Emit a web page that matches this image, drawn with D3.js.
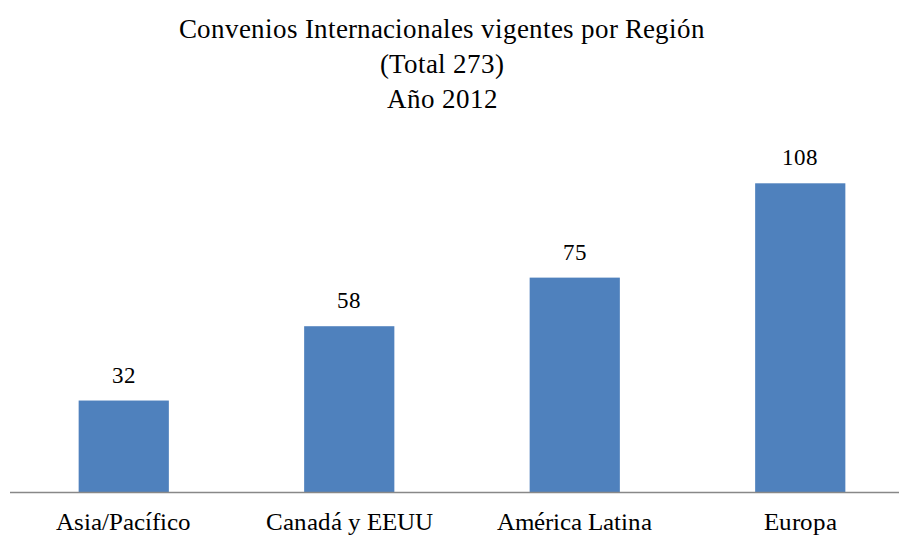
<!DOCTYPE html>
<html>
<head>
<meta charset="utf-8">
<script src="https://cdn.jsdelivr.net/npm/d3@7"></script>
<style>
  @font-face { font-family: "ChartSerif"; src: local("Liberation Serif"), local("LiberationSerif"), local("Liberation Serif Regular"), local("LiberationSerif-Regular"); }
  body { margin: 0; background: #fff; }
</style>
</head>
<body>
<script>
const regions = ["Asia/Pacífico", "Canadá y EEUU", "América Latina", "Europa"]
const convenios = [32, 58, 75, 108]
const titleLines = ["Convenios Internacionales vigentes por Región", "(Total 273)", "Año 2012"]

const w = 899
const h = 540
const serif = "ChartSerif, 'Liberation Serif'"

const svg = d3.select("body")
              .append("svg")
              .attr("width", w)
              .attr("height", h)

// title
svg.selectAll("text.title")
   .data(titleLines)
   .enter()
   .append("text")
   .attr("class", "title")
   .attr("x", 442)
   .attr("y", (d, i) => 38 + i * 35)
   .attr("text-anchor", "middle")
   .attr("font-family", serif)
   .attr("font-size", 27)
   .text(d => d)

// scales
const xScale = d3.scaleBand()
                 .domain(regions)
                 .range([11, 913])
                 .paddingInner(0.6)
                 .paddingOuter(0.3)

const yScale = d3.scaleLinear()
                 .domain([0, 120])
                 .range([492, 149])

// bars
svg.selectAll("rect")
   .data(convenios)
   .enter()
   .append("rect")
   .attr("x", (d, i) => xScale(regions[i]))
   .attr("y", d => yScale(d))
   .attr("width", xScale.bandwidth())
   .attr("height", d => yScale(0) - yScale(d))
   .attr("fill", "#4F81BD")

// value labels
svg.selectAll("text.val")
   .data(convenios)
   .enter()
   .append("text")
   .attr("class", "val")
   .attr("x", (d, i) => xScale(regions[i]) + xScale.bandwidth() / 2)
   .attr("y", d => yScale(d) - 18)
   .attr("text-anchor", "middle")
   .attr("font-family", serif)
   .attr("font-size", 23)
   .text(d => d)

// x axis
const xAxis = d3.axisBottom(xScale).tickSize(0).tickPadding(20)
const gx = svg.append("g")
              .attr("transform", "translate(0, 492.5)")
              .call(xAxis)
gx.attr("font-family", serif).attr("font-size", 25)
gx.select(".domain").attr("d", "M10,0H913").attr("stroke", "#888").attr("stroke-width", 1.5)
gx.selectAll("text").attr("fill", "#000")
</script>
</body>
</html>
